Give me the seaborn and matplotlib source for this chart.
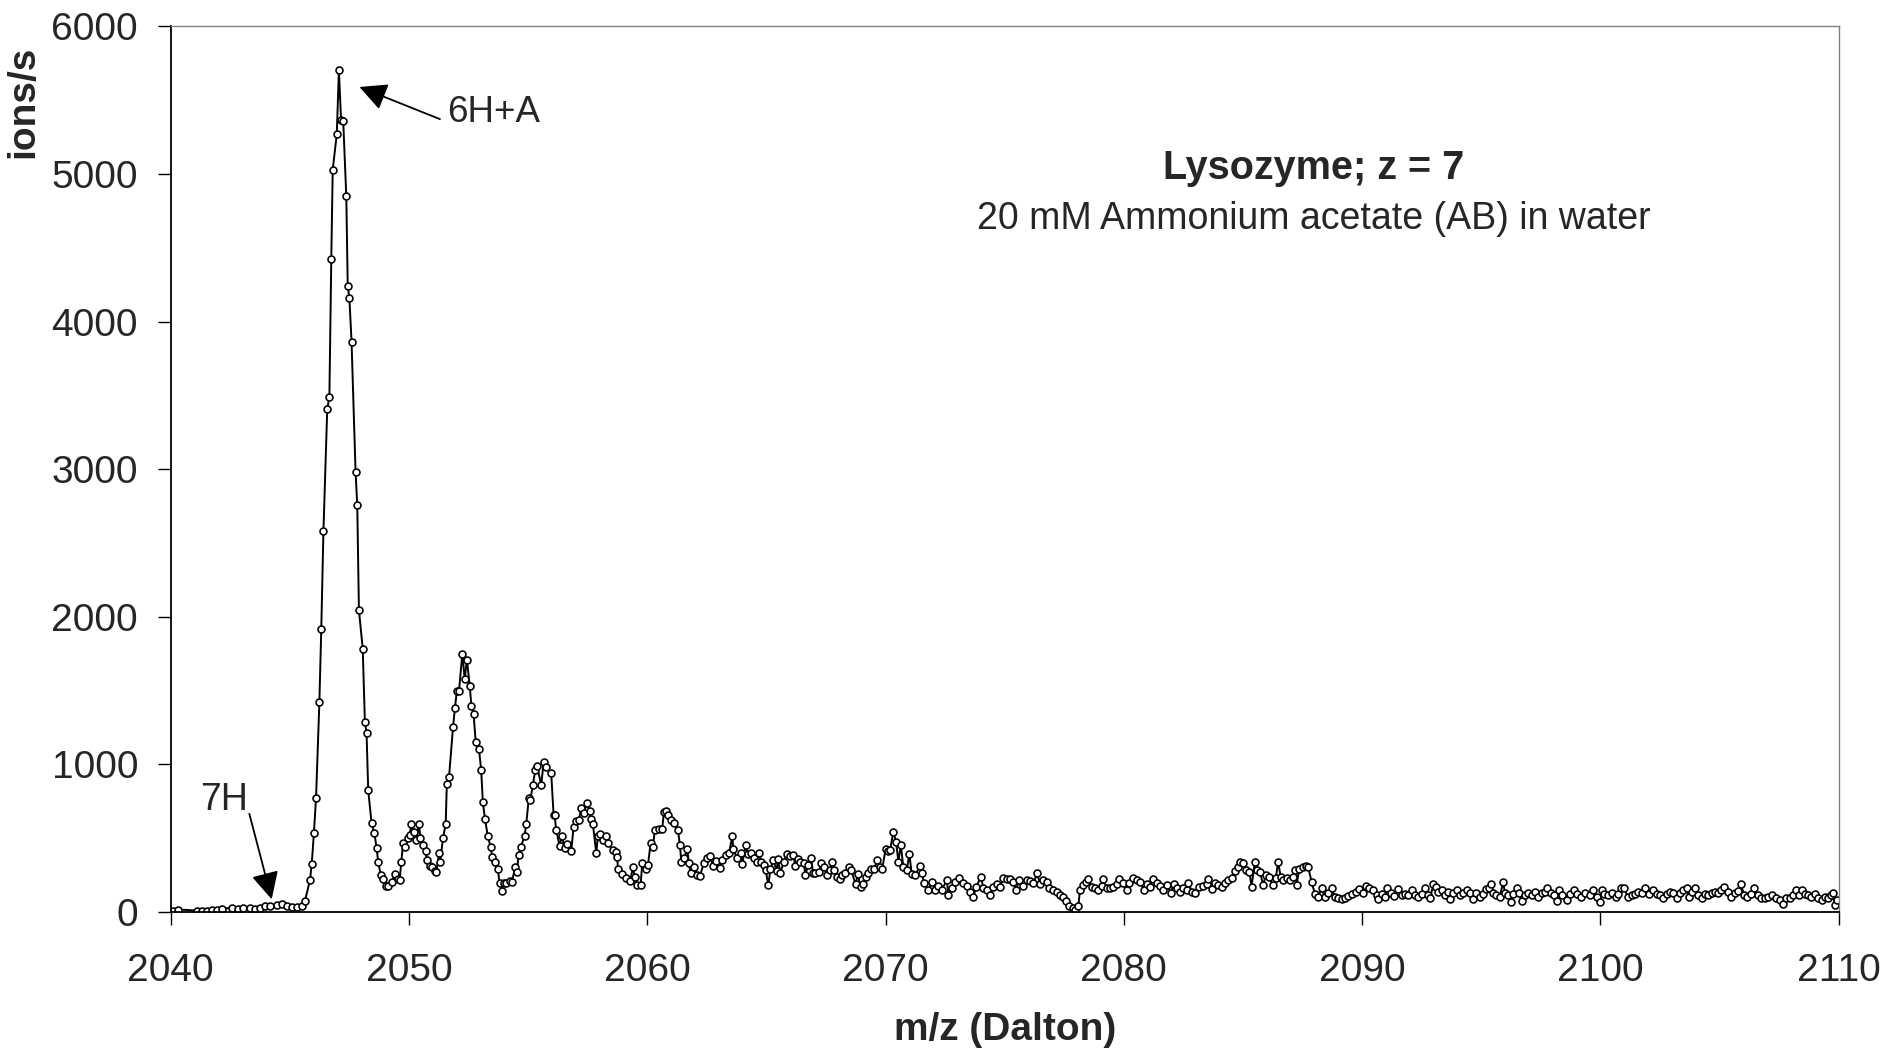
import pandas as pd
import seaborn as sns
import matplotlib.pyplot as plt

sns.set_style("ticks")
plt.rcParams['font.family'] = ['Liberation Sans', 'DejaVu Sans']

# m/z (Dalton) and intensity (ions/s)
mz_main = [2040.11, 2040.32, 2041.09, 2041.30, 2041.51, 2041.72, 2041.93, 2042.14, 2042.56, 2042.84,
           2043.05, 2043.33, 2043.54, 2043.75, 2043.96, 2044.17, 2044.45, 2044.66, 2044.87, 2045.08,
           2045.29, 2045.50, 2045.64, 2045.85, 2045.92, 2046.01, 2046.10, 2046.24, 2046.32, 2046.41,
           2046.57, 2046.66, 2046.74, 2046.80, 2046.97, 2047.06, 2047.15, 2047.24, 2047.37, 2047.43,
           2047.50, 2047.59, 2047.76, 2047.83, 2047.90, 2048.06, 2048.15, 2048.22, 2048.29, 2048.43,
           2048.55, 2048.64, 2048.71, 2048.81, 2048.92, 2049.02, 2049.13, 2049.27, 2049.41, 2049.55]
ions_main = [8, 15, 8, 8, 8, 11, 15, 19, 27, 19,
             27, 23, 19, 27, 38, 38, 46, 53, 38, 31,
             31, 38, 76, 218, 325, 531, 771, 1420, 1917, 2577,
             3406, 3490, 4425, 5029, 5269, 5704, 5365, 5361, 4849, 4242,
             4158, 3864, 2978, 2757, 2043, 1783, 1287, 1210, 825, 599,
             531, 435, 336, 252, 221, 172, 172, 199, 256, 221]

mz_adducts = [2049.61, 2049.68, 2049.75, 2049.82, 2049.96, 2050.03, 2050.10, 2050.20, 2050.30, 2050.42,
              2050.48, 2050.59, 2050.70, 2050.75, 2050.87, 2050.97, 2051.08, 2051.15, 2051.26, 2051.31,
              2051.43, 2051.54, 2051.59, 2051.68, 2051.85, 2051.93, 2052.01, 2052.10, 2052.24, 2052.34,
              2052.43, 2052.55, 2052.62, 2052.71, 2052.80, 2052.94, 2053.03, 2053.10, 2053.19, 2053.31,
              2053.43, 2053.50, 2053.59, 2053.73, 2053.80, 2053.89, 2053.97, 2054.08, 2054.22, 2054.32,
              2054.46, 2054.53, 2054.60, 2054.69, 2054.85, 2054.92, 2055.03, 2055.09, 2055.20, 2055.30,
              2055.38, 2055.55, 2055.65, 2055.76, 2055.97, 2056.07, 2056.11, 2056.18, 2056.32, 2056.42,
              2056.53, 2056.64, 2056.81, 2056.91, 2057.02, 2057.13, 2057.23, 2057.33, 2057.47, 2057.58,
              2057.65, 2057.72, 2057.86, 2057.93, 2058.03, 2058.14, 2058.25, 2058.35, 2058.56, 2058.67,
              2058.74, 2058.77, 2058.95, 2059.12, 2059.29, 2059.40, 2059.47, 2059.58]
ions_adducts = [215, 339, 463, 440, 497, 520, 592, 542, 486, 594,
                497, 452, 413, 350, 309, 305, 278, 266, 400, 339,
                501, 592, 869, 910, 1253, 1382, 1497, 1497, 1750, 1574,
                1709, 1533, 1393, 1343, 1152, 1100, 960, 745, 627, 512,
                436, 368, 339, 287, 196, 142, 192, 196, 208, 203,
                300, 271, 384, 436, 512, 592, 768, 756, 858, 960,
                987, 858, 1012, 982, 937, 655, 655, 553, 447, 515,
                429, 458, 413, 576, 614, 621, 704, 666, 734, 682,
                627, 592, 400, 512, 530, 486, 512, 463, 418, 406,
                368, 287, 255, 226, 210, 305, 237, 181]

mz_tail1 = [2059.72, 2059.79, 2059.93, 2060.03, 2060.14, 2060.25, 2060.31, 2060.49, 2060.63, 2060.70,
            2060.77, 2060.87, 2060.98, 2061.12, 2061.29, 2061.37, 2061.43, 2061.54, 2061.68, 2061.75,
            2061.82, 2061.96, 2062.10, 2062.21, 2062.38, 2062.49, 2062.63, 2062.77, 2062.87, 2063.05,
            2063.15, 2063.29, 2063.43, 2063.57, 2063.61, 2063.78, 2063.92, 2063.99, 2064.13, 2064.22,
            2064.34, 2064.48, 2064.59, 2064.69, 2064.78, 2064.90, 2064.97, 2065.08, 2065.17, 2065.29,
            2065.43, 2065.48, 2065.59, 2065.73, 2065.85, 2065.99, 2066.13, 2066.22, 2066.32, 2066.43,
            2066.57, 2066.64, 2066.74, 2066.88, 2066.96, 2067.06, 2067.20, 2067.30, 2067.41, 2067.55,
            2067.66, 2067.76, 2067.83, 2067.97, 2068.11, 2068.18, 2068.32, 2068.46, 2068.56, 2068.74,
            2068.84, 2068.95, 2069.06, 2069.16, 2069.27, 2069.37, 2069.51, 2069.65, 2069.76, 2069.86,
            2070.00, 2070.10]
ions_tail1 = [181, 327, 287, 316, 463, 440, 553, 564, 564, 677,
              684, 655, 625, 598, 553, 452, 339, 361, 422, 327,
              260, 305, 248, 242, 332, 361, 377, 309, 345, 294,
              350, 384, 395, 513, 422, 361, 400, 323, 452, 391,
              395, 361, 339, 400, 339, 316, 282, 181, 287, 350,
              278, 354, 264, 339, 391, 377, 384, 309, 354, 339,
              327, 248, 316, 361, 260, 264, 271, 327, 300, 248,
              282, 339, 282, 237, 219, 248, 260, 300, 282, 187,
              255, 165, 187, 237, 260, 287, 287, 350, 300, 287,
              422, 413]

mz_tail2 = [2070.19, 2070.33, 2070.44, 2070.54, 2070.64, 2070.75, 2070.89, 2071.00, 2071.10, 2071.24,
            2071.45, 2071.52, 2071.62, 2071.80, 2071.94, 2072.08, 2072.22, 2072.36, 2072.57, 2072.64,
            2072.78, 2072.92, 2073.10, 2073.27, 2073.41, 2073.55, 2073.69, 2073.80, 2074.00, 2074.11,
            2074.27, 2074.38, 2074.52, 2074.66, 2074.80, 2074.94, 2075.08, 2075.22, 2075.36, 2075.48,
            2075.61, 2075.78, 2075.92, 2076.06, 2076.20, 2076.37, 2076.48, 2076.60, 2076.76, 2076.87,
            2077.04, 2077.18, 2077.32, 2077.46, 2077.57, 2077.71, 2077.85, 2077.95, 2078.09, 2078.16,
            2078.27, 2078.41, 2078.51, 2078.65, 2078.79, 2078.93, 2079.07, 2079.14, 2079.28, 2079.42,
            2079.56, 2079.70, 2079.81, 2079.98, 2080.12, 2080.23, 2080.40, 2080.54, 2080.68, 2080.85,
            2080.96, 2081.10, 2081.21, 2081.38, 2081.52, 2081.66, 2081.80, 2081.97, 2082.10, 2082.22,
            2082.36, 2082.50, 2082.64, 2082.71, 2082.85, 2082.99, 2083.17, 2083.31, 2083.48, 2083.55,
            2083.69, 2083.83, 2083.97, 2084.10, 2084.25, 2084.38, 2084.52, 2084.66, 2084.80, 2084.87,
            2085.01, 2085.13, 2085.27, 2085.36, 2085.50, 2085.60, 2085.71, 2085.85, 2085.96, 2086.10,
            2086.24, 2086.38, 2086.48, 2086.58, 2086.69, 2086.83, 2086.97, 2087.08, 2087.18, 2087.25,
            2087.36, 2087.50, 2087.64, 2087.74, 2087.88, 2088.02, 2088.16, 2088.30, 2088.44, 2088.58]
ions_tail2 = [418, 542, 474, 339, 452, 300, 282, 391, 255, 248,
              309, 260, 192, 147, 203, 147, 174, 147, 214, 113,
              158, 203, 226, 192, 174, 136, 102, 165, 237, 158,
              147, 113, 169, 187, 165, 230, 219, 219, 203, 147,
              214, 174, 214, 210, 192, 260, 187, 214, 203, 158,
              147, 136, 113, 97, 75, 38, 23, 12, 38, 147,
              181, 203, 219, 169, 158, 147, 174, 219, 158, 158,
              169, 187, 219, 196, 147, 192, 230, 214, 203, 147,
              187, 165, 219, 192, 174, 147, 181, 129, 187, 158,
              136, 158, 147, 196, 136, 124, 165, 174, 187, 219,
              151, 192, 181, 165, 192, 214, 230, 278, 300, 339,
              327, 282, 271, 169, 339, 282, 271, 181, 248, 237,
              181, 230, 339, 237, 214, 230, 214, 237, 282, 181,
              287, 300, 309, 300, 203, 120, 102, 158, 97, 124]

mz_tail3 = [2088.72, 2088.86, 2089.00, 2089.14, 2089.28, 2089.42, 2089.56, 2089.74, 2089.88, 2090.02,
            2090.16, 2090.30, 2090.47, 2090.61, 2090.68, 2090.82, 2090.96, 2091.06, 2091.20, 2091.34,
            2091.52, 2091.66, 2091.80, 2091.94, 2092.08, 2092.22, 2092.36, 2092.50, 2092.64, 2092.78,
            2092.85, 2092.99, 2093.10, 2093.20, 2093.34, 2093.48, 2093.62, 2093.71, 2093.82, 2093.97,
            2094.10, 2094.25, 2094.39, 2094.52, 2094.66, 2094.80, 2094.94, 2095.08, 2095.20, 2095.34,
            2095.39, 2095.50, 2095.64, 2095.78, 2095.92, 2095.99, 2096.13, 2096.23, 2096.34, 2096.48,
            2096.59, 2096.69, 2096.83, 2096.97, 2097.11, 2097.25, 2097.39, 2097.53, 2097.67, 2097.77,
            2097.91, 2098.05, 2098.16, 2098.27, 2098.41, 2098.58, 2098.72, 2098.89, 2099.03, 2099.17,
            2099.35]
ions_tail3 = [158, 102, 90, 86, 90, 108, 117, 135, 154, 124,
              176, 163, 147, 113, 86, 117, 102, 163, 124, 108,
              154, 113, 117, 113, 147, 113, 102, 117, 158, 113,
              90, 185, 169, 135, 147, 113, 133, 86, 129, 147,
              113, 124, 147, 124, 86, 129, 102, 117, 154, 163,
              185, 129, 113, 102, 203, 129, 113, 68, 117, 163,
              124, 72, 113, 124, 113, 131, 102, 124, 133, 163,
              124, 113, 72, 147, 113, 79, 117, 147, 117, 102,
              129]

mz_tail4 = [2099.56, 2099.70, 2099.84, 2099.98, 2100.05, 2100.16, 2100.33, 2100.47, 2100.64, 2100.75,
            2100.86, 2101.00, 2101.14, 2101.31, 2101.45, 2101.59, 2101.73, 2101.87, 2102.04, 2102.22,
            2102.36, 2102.50, 2102.64, 2102.78, 2102.92, 2103.06, 2103.20, 2103.34, 2103.48, 2103.62,
            2103.71, 2103.83, 2103.97, 2104.11, 2104.25, 2104.38, 2104.52, 2104.67, 2104.80, 2104.94,
            2105.08, 2105.20, 2105.34, 2105.50, 2105.64, 2105.78, 2105.90, 2106.03, 2106.17, 2106.32,
            2106.45, 2106.60, 2106.73, 2106.90, 2107.04, 2107.21, 2107.39, 2107.53, 2107.67, 2107.81,
            2107.95, 2108.09, 2108.19, 2108.33, 2108.47, 2108.58, 2108.72, 2108.86, 2109.00, 2109.14,
            2109.28, 2109.42, 2109.56, 2109.67, 2109.77, 2109.84, 2109.91]
ions_tail4 = [113, 147, 102, 68, 147, 117, 113, 124, 102, 117,
              163, 158, 102, 113, 117, 131, 124, 158, 117, 147,
              117, 113, 90, 117, 135, 124, 90, 124, 147, 158,
              102, 135, 163, 113, 90, 117, 113, 124, 135, 124,
              147, 169, 135, 102, 124, 140, 185, 113, 102, 117,
              163, 113, 95, 90, 102, 113, 90, 79, 50, 90,
              95, 113, 147, 113, 147, 117, 113, 102, 117, 90,
              79, 102, 90, 113, 124, 45, 79]

mz = mz_main + mz_adducts + mz_tail1 + mz_tail2 + mz_tail3 + mz_tail4
ions = ions_main + ions_adducts + ions_tail1 + ions_tail2 + ions_tail3 + ions_tail4
dfSpec = pd.DataFrame({"m/z (Dalton)": mz, "ions/s": ions})

fig = plt.figure(figsize=(18.86, 10.5), dpi=100)
ax = fig.add_axes([0.0905, 0.1317, 0.8844, 0.8431])

sns.lineplot(data=dfSpec, x="m/z (Dalton)", y="ions/s", ax=ax, estimator=None, sort=False,
             color="black", lw=1.4, marker="o", markersize=5.0, markerfacecolor="white",
             markeredgecolor="black", markeredgewidth=1.15)

ax.set(xlim=(2040, 2110), ylim=(0, 6000), xlabel="", ylabel="")
ax.set_xticks(range(2040, 2111, 10))
ax.set_yticks(range(0, 6001, 1000))
ax.tick_params(axis="both", direction="out", length=9.5, width=1.0, labelsize=28, color="black")
ax.tick_params(axis="x", pad=20)
ax.tick_params(axis="y", pad=14)
for s in ["left", "bottom"]:
   ax.spines[s].set_color("black")
   ax.spines[s].set_linewidth(1.3)
for s in ["top", "right"]:
   ax.spines[s].set_visible(True)
   ax.spines[s].set_color("#808080")
   ax.spines[s].set_linewidth(1.0)

fig.text(0.5327, 1 - 1030 / 1050, "m/z (Dalton)", ha="center", va="center", fontsize=28, fontweight="bold")
fig.text(23 / 1886, 1 - 102 / 1050, "ions/s", ha="center", va="center", rotation=90, fontsize=28, fontweight="bold")

ax.text(2087.98, 5039, "Lysozyme; z = 7", ha="center", va="center", fontsize=28.5, fontweight="bold")
ax.text(2087.98, 4693, "20 mM Ammonium acetate (AB) in water", ha="center", va="center", fontsize=27)

arrow = dict(arrowstyle="-|>,head_length=0.6,head_width=0.3", color="black", lw=1.3,
             shrinkA=0, shrinkB=0, mutation_scale=28)
ax.annotate("", xy=(2047.92, 5590), xytext=(2051.30, 5372), arrowprops=arrow)
ax.text(2051.62, 5420, "6H+A", ha="left", va="center", fontsize=26.5)
ax.annotate("", xy=(2044.24, 84), xytext=(2043.30, 664), arrowprops=arrow)
ax.text(2042.25, 760, "7H", ha="center", va="center", fontsize=27)

fig.savefig("out.png", dpi=100)
plt.close()
